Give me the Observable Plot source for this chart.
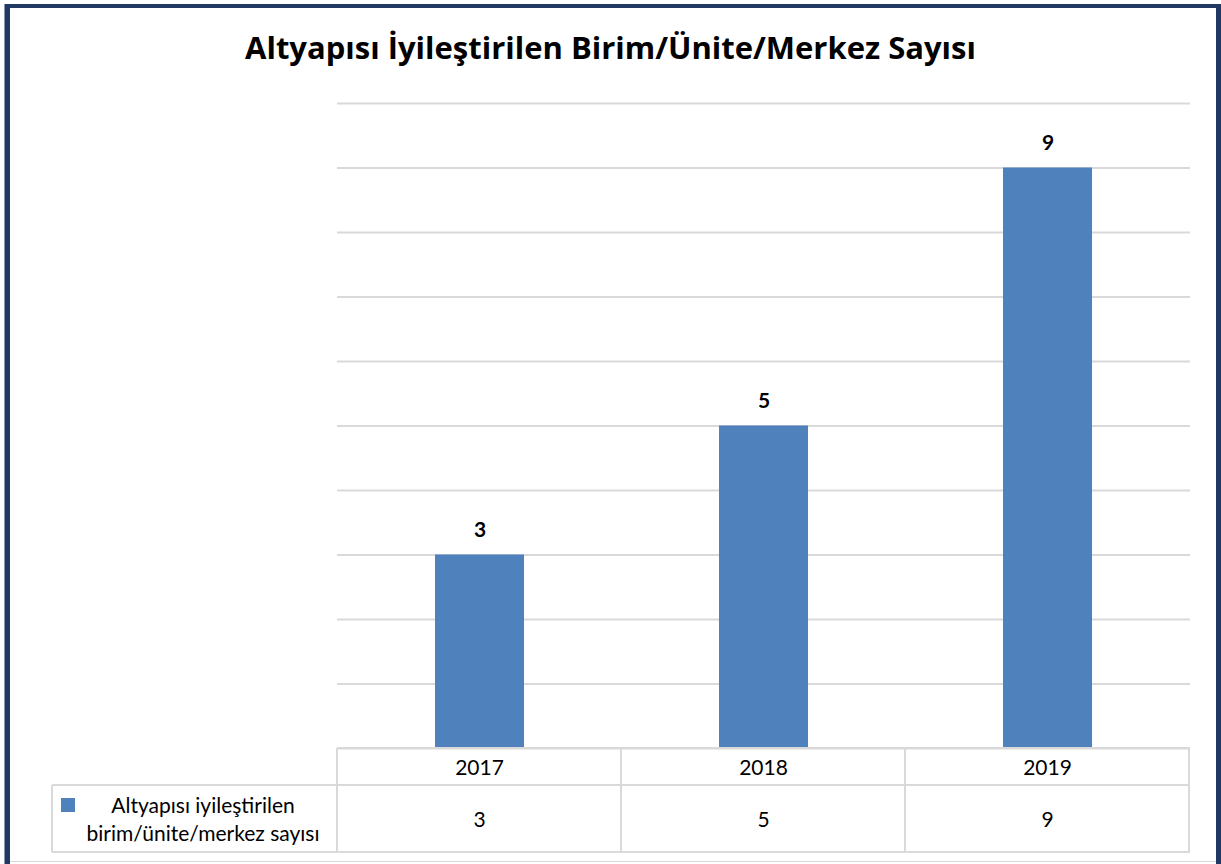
<!DOCTYPE html>
<html>
<head>
<meta charset="utf-8">
<script src="https://cdn.jsdelivr.net/npm/d3@7"></script>
<script src="https://cdn.jsdelivr.net/npm/@observablehq/plot@0.6"></script>
<style>
  html, body { margin: 0; padding: 0; background: #fff; }
  #frame { position: relative; width: 1221px; height: 864px; overflow: hidden; background: #fff; font-family: Lato, "Open Sans", sans-serif; }
  #bl { position: absolute; left: 5px; top: 4px; width: 5px; height: 864px; background: #1f3864; }
  #bl2 { position: absolute; left: 4px; top: 4px; width: 1px; height: 864px; background: #8a96ad; }
  #bt { position: absolute; left: 5px; top: 4px; width: 1216px; height: 4px; background: #1f3864; }
  #br { position: absolute; left: 1216px; top: 4px; width: 5px; height: 864px; background: #1f3864; }
  #bb { position: absolute; left: 10px; top: 861px; width: 1206px; height: 1px; background: #d9d9d9; }
  #title { position: absolute; left: 0; width: 1221px; top: 27px; text-align: center; font-family: "Open Sans", Lato, sans-serif; font-weight: 700; font-size: 31px; letter-spacing: 0; color: #000; line-height: 40px; }
  #chart { position: absolute; left: 0; top: 80px; }
  .cell { position: absolute; box-sizing: border-box; display: flex; align-items: center; justify-content: center; font-size: 21px; color: #000; text-align: center; line-height: 28px; }
  .line { position: absolute; background: #d9d9d9; }
</style>
</head>
<body>
<div id="frame">
  <div id="bl2"></div><div id="bl"></div><div id="bt"></div><div id="br"></div><div id="bb"></div>
  <div id="title">Altyapısı İyileştirilen Birim/Ünite/Merkez Sayısı</div>
  <div id="chart"></div>
</div>
<script>
const years = ["2017", "2018", "2019"];
const values = [3, 5, 9];
const seriesLines = ["Altyapısı iyileştirilen", "birim/ünite/merkez sayısı"];
const barColor = "#4f81bd";
const yTicks = [0, 1, 2, 3, 4, 5, 6, 7, 8, 9, 10];

const data = years.map((y, i) => ({year: y, value: values[i]}));

const chart = Plot.plot({
  width: 1221,
  height: 670,
  marginLeft: 337,
  marginRight: 31,
  marginTop: 23,
  marginBottom: 2,
  x: {domain: years, paddingInner: 0.686, paddingOuter: 0.343, axis: null},
  y: {domain: [0, 10], axis: null},
  style: {fontFamily: "Lato, 'Open Sans', sans-serif", background: "transparent"},
  marks: [
    Plot.ruleY(yTicks, {stroke: "#d9d9d9", strokeWidth: 2}),
    Plot.barY(data, {x: "year", y: "value", fill: barColor}),
    Plot.text(data, {x: "year", y: "value", text: d => String(d.value), dy: -25, fontWeight: 700, fontSize: 21, fill: "#000"})
  ]
});
document.getElementById("chart").appendChild(chart);

// data table built from the x scale
const xs = chart.scale("x");
const step = xs.step;
const left0 = xs.range[0];
const right0 = xs.range[1];
const tableTop = 80 + 670 - 2; // baseline of chart
const row1 = 37, row2 = 67;
const labelLeft = 52;
const frame = document.getElementById("frame");
function add(cls, style, html) {
  const d = document.createElement("div");
  d.className = cls;
  Object.assign(d.style, style);
  if (html != null) d.innerHTML = html;
  frame.appendChild(d);
  return d;
}
// horizontal lines
add("line", {left: left0 + "px", top: (tableTop - 1) + "px", width: (right0 - left0) + "px", height: "2px"});
add("line", {left: labelLeft + "px", top: (tableTop + row1 - 1) + "px", width: (right0 - labelLeft) + "px", height: "2px"});
add("line", {left: labelLeft + "px", top: (tableTop + row1 + row2 - 1) + "px", width: (right0 - labelLeft) + "px", height: "2px"});
// vertical lines
add("line", {left: (labelLeft - 1) + "px", top: (tableTop + row1) + "px", width: "2px", height: row2 + "px"});
for (let i = 0; i <= years.length; i++) {
  const xv = left0 + i * step;
  add("line", {left: (xv - 1) + "px", top: tableTop + "px", width: "2px", height: (row1 + row2) + "px"});
}
// cells
years.forEach((y, i) => {
  const cx = xs.apply(y) + xs.bandwidth / 2;
  add("cell", {left: (cx - step / 2) + "px", top: tableTop + "px", width: step + "px", height: row1 + "px"}, y);
  add("cell", {left: (cx - step / 2) + "px", top: (tableTop + row1) + "px", width: step + "px", height: row2 + "px"}, String(values[i]));
});
// legend cell
const lc = add("cell", {left: labelLeft + "px", top: (tableTop + row1) + "px", width: (left0 - labelLeft) + "px", height: row2 + "px", justifyContent: "flex-start"});
lc.innerHTML = `<div style="width:14px;height:14px;background:${barColor};margin-left:9px;align-self:flex-start;margin-top:13px;flex:none"></div><div style="flex:1;text-align:center;padding-right:6px">${seriesLines.join("<br>")}</div>`;
</script>
</body>
</html>
